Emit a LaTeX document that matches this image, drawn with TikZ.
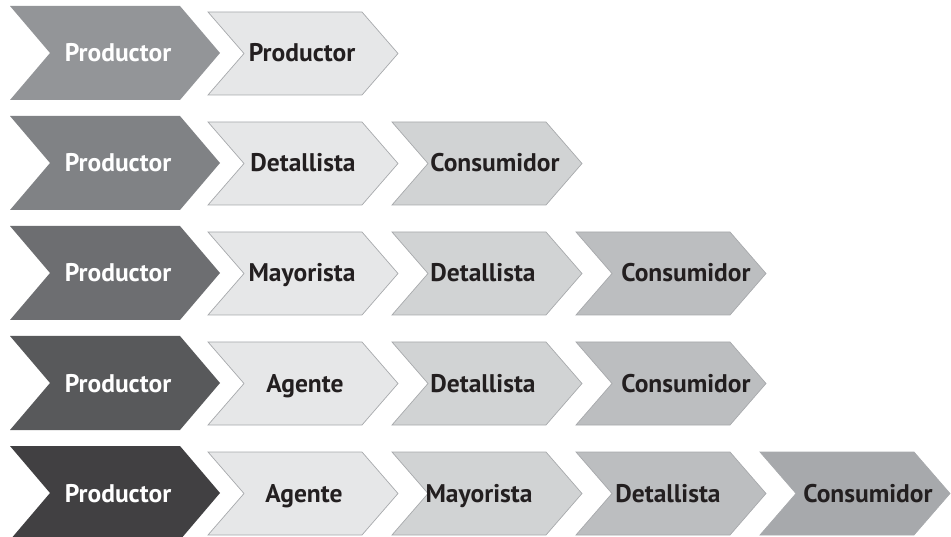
\documentclass[tikz,border=0pt]{standalone}
\usepackage{fontspec}
\setmainfont{PT Sans}
\definecolor{pA}{HTML}{939598}
\definecolor{pB}{HTML}{808285}
\definecolor{pC}{HTML}{6D6E71}
\definecolor{pD}{HTML}{58595B}
\definecolor{pE}{HTML}{414042}
\definecolor{cTwo}{HTML}{E6E7E8}
\definecolor{cThree}{HTML}{D1D3D4}
\definecolor{cFour}{HTML}{BCBEC0}
\definecolor{cFive}{HTML}{A7A9AC}
\definecolor{edgegray}{HTML}{A7A9AC}
\definecolor{ink}{HTML}{231F20}
\tikzset{
  lbl/.style={anchor=base, font=\fontsize{25.5}{28}\selectfont\bfseries, inner sep=0pt},
  wlbl/.style={lbl, text=white},
  dlbl/.style={lbl, text=ink},
  smallbox/.style={draw=edgegray, line width=0.7pt, line join=miter},
}
\newcommand{\bigchev}[2]{% y-center, color
  \fill[#2] (10,#1-47) -- (180,#1-47) -- (220,#1) -- (180,#1+47) -- (10,#1+47) -- (50,#1) -- cycle;}
\newcommand{\smallchev}[3]{% x-left, y-center, color
  \filldraw[smallbox, fill=#3] (#1,#2-41.5) -- (#1+154,#2-41.5) -- (#1+190,#2) -- (#1+154,#2+41.5) -- (#1,#2+41.5) -- (#1+36,#2) -- cycle;}
\begin{document}
\begin{tikzpicture}[x=1pt,y=-1pt]
\useasboundingbox (0,0) rectangle (951,537);
% row 1
\bigchev{53}{pA}
\smallchev{208}{53.5}{cTwo}
\node[wlbl] (p1) at (118,62) {Productor};
\node[dlbl] (a1) at (302,62) {Productor};
% row 2
\bigchev{163}{pB}
\smallchev{208}{163.5}{cTwo}
\smallchev{392}{163.5}{cThree}
\node[wlbl] (p2) at (118,172) {Productor};
\node[dlbl] (a2) at (303,172) {Detallista};
\node[dlbl] (b2) at (495,172) {Consumidor};
% row 3
\bigchev{273}{pC}
\smallchev{208}{273.5}{cTwo}
\smallchev{392}{273.5}{cThree}
\smallchev{576}{273.5}{cFour}
\node[wlbl] (p3) at (118,282) {Productor};
\node[dlbl] (a3) at (302,282) {Mayorista};
\node[dlbl] (b3) at (483,282) {Detallista};
\node[dlbl] (c3) at (686,282) {Consumidor};
% row 4
\bigchev{383}{pD}
\smallchev{208}{383.5}{cTwo}
\smallchev{392}{383.5}{cThree}
\smallchev{576}{383.5}{cFour}
\node[wlbl] (p4) at (118,392) {Productor};
\node[dlbl] (a4) at (305,392) {Agente};
\node[dlbl] (b4) at (483,392) {Detallista};
\node[dlbl] (c4) at (686,392) {Consumidor};
% row 5
\bigchev{493}{pE}
\smallchev{208}{493.5}{cTwo}
\smallchev{392}{493.5}{cThree}
\smallchev{576}{493.5}{cFour}
\smallchev{760}{493.5}{cFive}
\node[wlbl] (p5) at (118,502) {Productor};
\node[dlbl] (a5) at (304,502) {Agente};
\node[dlbl] (b5) at (479,502) {Mayorista};
\node[dlbl] (c5) at (668,502) {Detallista};
\node[dlbl] (d5) at (868,502) {Consumidor};
\end{tikzpicture}
\end{document}
